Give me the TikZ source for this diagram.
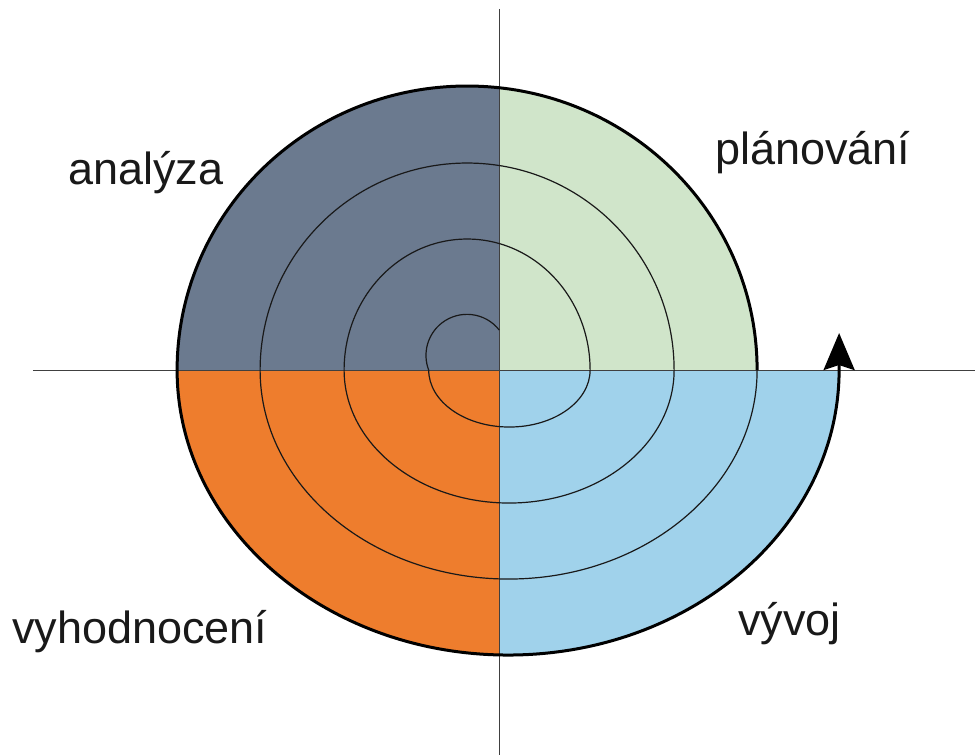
\documentclass[tikz,border=0pt]{standalone}
\usepackage{fontspec}
\setmainfont{Liberation Sans}
\usetikzlibrary{arrows.meta}

\definecolor{slate}{HTML}{6B7A8F}
\definecolor{mint}{HTML}{D0E5CA}
\definecolor{tangerine}{HTML}{EE7D2D}
\definecolor{sky}{HTML}{A0D2EB}

\begin{document}
\begin{tikzpicture}[
  x=1pt, y=1pt,
  axis/.style={draw=black!75, line width=1pt},
  spiral/.style={draw=black!90, line width=1.2pt},
  rim/.style={draw=black, line width=3pt, line join=round},
  phase/.style={anchor=base west, inner sep=0pt, text=black!90, font=\fontsize{45pt}{54pt}\selectfont}
]
\useasboundingbox (-500,-385) rectangle (475,370);

% four coloured quarters
\fill[slate] (0,0) -- (-323,0) arc[start angle=180, end angle={acos(33/290)}, x radius=290, y radius=284] -- cycle;
\fill[mint] (0,0) -- (257,0) arc[start angle=0, end angle={acos(33/290)}, x radius=290, y radius=284] -- cycle;
\fill[tangerine] (0,0) -- (-323,0) arc[start angle=180, end angle={180+acos(8/331)}, x radius=331, y radius=285] -- cycle;
\fill[sky] (0,0) -- (339,0) arc[start angle=360, end angle={180+acos(8/331)}, x radius=331, y radius=285] -- cycle;

% axes
\coordinate (north) at (0,361);
\coordinate (south) at (0,-385);
\coordinate (west) at (-467,0);
\coordinate (east) at (475,0);
\draw[axis] (north) -- (south);
\draw[axis] (west) -- (east);

% spiral
\coordinate (start) at (-0.7,39.9);
\draw[spiral] (start) arc[start angle=38, end angle=201, radius=41]
  arc[start angle=180, end angle=360, x radius=80.7, y radius=57]
  arc[start angle=0, end angle=180, x radius=123, y radius=131]
  arc[start angle=180, end angle=360, x radius=165, y radius=133]
  arc[start angle=0, end angle=180, x radius=207, y radius=207]
  arc[start angle=180, end angle=360, x radius=248.5, y radius=209] coordinate (turn);
\draw[rim, -{Stealth[length=37pt, width=31pt, inset=5pt]}] (turn)
  arc[start angle=0, end angle=180, x radius=290, y radius=284]
  arc[start angle=180, end angle=360, x radius=331, y radius=285] -- ++(0,37);

% labels
\node[phase] (analyza) at (-432,185) {analýza};
\node[phase] (planovani) at (215,205) {plánování};
\node[phase] (vyhodnoceni) at (-488,-273) {vyhodnocení};
\node[phase] (vyvoj) at (238,-265) {vývoj};

\end{tikzpicture}
\end{document}
